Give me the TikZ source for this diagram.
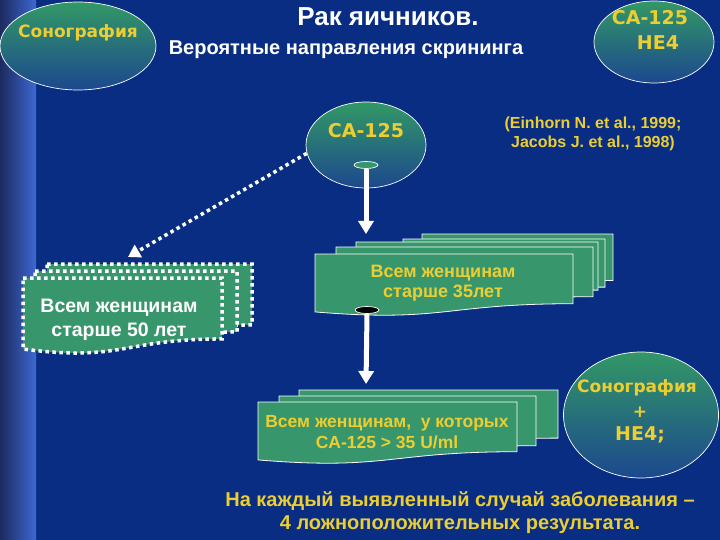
\documentclass[tikz,border=0pt]{standalone}
\usepackage{fontspec}
\setmainfont{Liberation Sans}
\newfontfamily\comicfont{DejaVu Sans}
\usetikzlibrary{arrows.meta,shapes.geometric}
\definecolor{bg}{RGB}{8,45,130}
\definecolor{stripA}{RGB}{28,42,95}
\definecolor{stripB}{RGB}{62,104,210}
\definecolor{txtyellow}{RGB}{236,206,50}
\definecolor{boxgreen}{RGB}{56,150,108}
\definecolor{elltop}{RGB}{50,152,102}
\definecolor{ellbot}{RGB}{28,72,142}
\tikzset{
  doc/.style n args={4}{insert path={(#1,#2) -- (#3,#2) -- (#3,{#2+0.802*#4})
     .. controls ({(#1+#3)/2},{#2+0.802*#4}) and ({(#1+#3)/2},{#2+1.107*#4}) .. (#1,{#2+0.934*#4}) -- cycle}},
  solidbox/.style={fill=boxgreen, draw=white, line width=0.8pt},
  dotbox/.style={fill=boxgreen, draw=white, line width=3.5pt, dash pattern=on 3.5pt off 3.5pt},
  ell/.style={ellipse, draw=white, line width=0.7pt, top color=elltop, bottom color=ellbot, inner sep=0pt},
  tabell/.style={ellipse, draw=white, line width=0.7pt, inner sep=0pt, minimum width=24pt, minimum height=7pt},
  comictxt/.style={text=txtyellow, font=\comicfont\bfseries\fontsize{17}{20}\selectfont, inner sep=0pt},
  catxt/.style={text=txtyellow, font=\comicfont\bfseries\fontsize{19}{22}\selectfont, inner sep=0pt},
  ytxt/.style={text=txtyellow, font=\bfseries\fontsize{18}{20}\selectfont, align=center, inner sep=0pt},
  wtxt/.style={text=white, font=\bfseries\fontsize{19.5}{24}\selectfont, align=center, inner sep=0pt},
  bigarrow/.style={draw=white, line width=5pt, -{Triangle[width=15pt,length=13pt]}},
  dotarrow/.style={draw=white, line width=3.5pt, dash pattern=on 3.5pt off 3.5pt, -{Triangle[width=14pt,length=12pt]}},
}
\begin{document}
\begin{tikzpicture}[x=1pt,y=-1pt]
\fill[bg] (0,0) rectangle (720,540);
\useasboundingbox (0,0) rectangle (720,540);
\shade[left color=stripA, right color=stripB] (0,0) rectangle (36,540);

% top-left ellipse
\node[ell, minimum width=156pt, minimum height=88pt] (sono) at (78,46) {};
\node[comictxt] (sonot) at (78,33) {Сонография};

% titles
\node[text=white, font=\bfseries\fontsize{26}{28}\selectfont, inner sep=0pt] (title) at (388,17) {Рак яичников.};
\node[text=white, font=\bfseries\fontsize{20}{22}\selectfont, inner sep=0pt] (subtitle) at (346,50) {Вероятные направления скрининга};

% top-right ellipse
\node[ell, minimum width=120pt, minimum height=82pt] (cahe) at (654,42) {};
\node[catxt] (cahe1) at (650,18) {CA-125};
\node[catxt] (cahe2) at (658,43) {HE4};

% middle ellipse
\node[ell, minimum width=120pt, minimum height=86pt] (ca) at (366,145) {};
\node[catxt] (cat) at (366,131) {CA-125};
\node[tabell, fill=boxgreen] (tab1) at (366,165) {};

% citation
\node[ytxt, font=\bfseries\fontsize{16}{19}\selectfont] (cite) at (593,134) {(Einhorn N. et al., 1999;\\Jacobs J. et al., 1998)};

% left dotted stack
\filldraw[dotbox] [doc={47}{264}{252}{76}];
\filldraw[dotbox] [doc={35}{271}{237}{76}];
\filldraw[dotbox] [doc={23}{278}{222}{76}];
\node[wtxt] (b50) at (119,320) {Всем женщинам\\старше 50 лет};

% dotted arrow
\coordinate (dotend) at (128,257);
\draw[dotarrow] (ca.188) -- (dotend);

% middle stack
\filldraw[solidbox] [doc={422}{234}{613}{58}];
\filldraw[solidbox] [doc={403}{239}{605}{60}];
\filldraw[solidbox] [doc={356}{242}{598}{60}];
\filldraw[solidbox] [doc={336}{247}{593}{62}];
\filldraw[solidbox] [doc={315}{254}{573}{62}];
\node[ytxt] (b35) at (443,283) {Всем женщинам\\старше 35лет};
\node[tabell, fill=black] (tab2) at (367,310) {};

% arrows
\coordinate (a1end) at (366,234);
\draw[bigarrow] (tab1.south) -- (a1end);
\coordinate (a2end) at (366,384);
\draw[bigarrow] (tab2.south) -- (a2end);

% bottom stack
\filldraw[solidbox] [doc={299}{390}{558}{60}];
\filldraw[solidbox] [doc={279}{396}{536}{62}];
\filldraw[solidbox] [doc={258}{402}{517}{62}];
\node[ytxt, font=\bfseries\fontsize{17.5}{21}\selectfont] (bum) at (387,432) {Всем женщинам,\ \ у которых\\CA-125 > 35 U/ml};

% bottom-right ellipse
\node[ell, minimum width=155pt, minimum height=126pt] (sh) at (641,415) {};
\node[comictxt] (sh1) at (637,388) {Сонография};
\node[comictxt] (sh2) at (640,412) {+};
\node[catxt] (sh3) at (640,435) {HE4;};

% bottom text
\node[ytxt, font=\bfseries\fontsize{20}{23}\selectfont] (concl) at (460,513) {На каждый выявленный случай заболевания –\\4 ложноположительных результата.};
\end{tikzpicture}
\end{document}
